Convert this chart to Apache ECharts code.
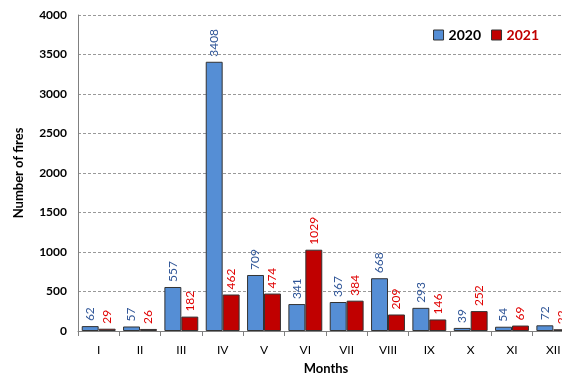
<!DOCTYPE html>
<html><head><meta charset="utf-8">
<script src="https://cdn.jsdelivr.net/npm/echarts@6/dist/echarts.min.js"></script>
<style>html,body{margin:0;padding:0;background:#fff;overflow:hidden}#c{width:574px;height:380px}</style>
</head><body><div id="c"></div>
<script>
const months = ['I','II','III','IV','V','VI','VII','VIII','IX','X','XI','XII'];
const fires2020 = [62,57,557,3408,709,341,367,668,293,39,54,72];
const fires2021 = [29,26,182,462,474,1029,384,209,146,252,69,22];
const yTicks = [0,500,1000,1500,2000,2500,3000,3500,4000];

const FONT = 'Lato';
const chart = echarts.init(document.getElementById('c'), null, {renderer:'canvas'});
function lbl(color){
  return {show:true, position:'top', rotate:90, align:'left', verticalAlign:'middle',
    distance:5, color:color, fontSize:12, fontFamily:FONT};
}
chart.setOption({
  animation:false,
  backgroundColor:'#fff',
  legend:{
    top:23, right:30, itemWidth:10, itemHeight:10, itemGap:10, icon:'rect',
    textStyle:{fontFamily:FONT, fontWeight:'bold', fontSize:14},
    itemStyle:{borderColor:'#333', borderWidth:1},
    data:[
      {name:'2020', textStyle:{color:'#000'}},
      {name:'2021', textStyle:{color:'#c00000'}}
    ]
  },
  grid:{left:78, top:15, bottom:45, right:0},
  xAxis:{
    type:'category', data:months,
    name:'Months', nameLocation:'middle', nameGap:31,
    nameTextStyle:{fontFamily:FONT, fontWeight:'bold', fontSize:13, color:'#000'},
    axisLine:{lineStyle:{color:'#808080'}},
    axisTick:{show:true, length:5, lineStyle:{color:'#808080'}},
    axisLabel:{fontFamily:FONT, fontSize:12, color:'#000', margin:13}
  },
  yAxis:{
    type:'value', min:yTicks[0], max:yTicks[yTicks.length-1], interval:yTicks[1]-yTicks[0],
    name:'Number of fires', nameLocation:'middle', nameGap:53,
    nameTextStyle:{fontFamily:FONT, fontWeight:'bold', fontSize:13, color:'#000'},
    axisLine:{show:true, lineStyle:{color:'#808080'}},
    axisTick:{show:false},
    axisLabel:{fontFamily:FONT, fontWeight:'bold', fontSize:12, color:'#000', margin:11,
      formatter:v=>String(v)},
    splitLine:{lineStyle:{color:'#999', type:[3,2]}}
  },
  series:[
    {name:'2020', type:'bar', data:fires2020, barGap:'0%', barCategoryGap:'18%',
     itemStyle:{color:'#558ed5', borderColor:'#333', borderWidth:1},
     label:lbl('#2f5597')},
    {name:'2021', type:'bar', data:fires2021,
     itemStyle:{color:'#c00000', borderColor:'#333', borderWidth:1},
     label:lbl('#e00000')}
  ]
});
</script></body></html>
